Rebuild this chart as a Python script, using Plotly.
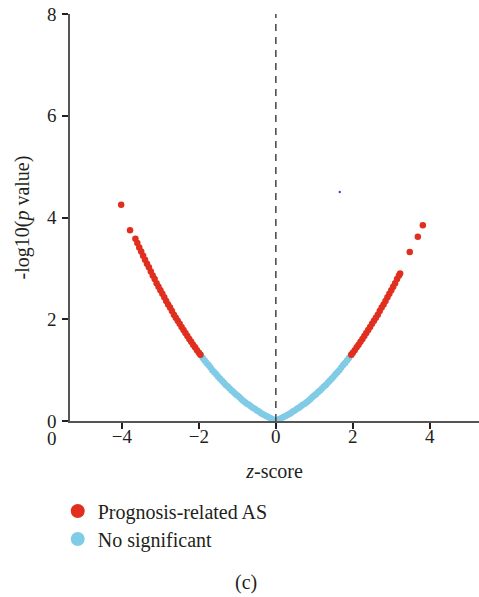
import plotly.graph_objects as go

# ---- data ----
# not significant (blue), z-score vs -log10(p)
ns_z = [-1.95, -1.90, -1.85, -1.80, -1.75, -1.70, -1.65, -1.60, -1.55, -1.50,
        -1.45, -1.40, -1.35, -1.30, -1.25, -1.20, -1.15, -1.10, -1.05, -1.00,
        -0.95, -0.90, -0.85, -0.80, -0.75, -0.70, -0.65, -0.60, -0.55, -0.50,
        -0.45, -0.40, -0.35, -0.30, -0.25, -0.20, -0.15, -0.10, -0.05, 0.00,
        0.05, 0.10, 0.15, 0.20, 0.25, 0.30, 0.35, 0.40, 0.45, 0.50,
        0.55, 0.60, 0.65, 0.70, 0.75, 0.80, 0.85, 0.90, 0.95, 1.00,
        1.05, 1.10, 1.15, 1.20, 1.25, 1.30, 1.35, 1.40, 1.45, 1.50,
        1.55, 1.60, 1.65, 1.70, 1.75, 1.80, 1.85, 1.90, 1.95]
ns_y = [1.29, 1.24, 1.19, 1.14, 1.10, 1.05, 1.00, 0.96, 0.92, 0.87,
        0.83, 0.79, 0.75, 0.71, 0.68, 0.64, 0.60, 0.57, 0.53, 0.50,
        0.47, 0.43, 0.40, 0.37, 0.34, 0.32, 0.29, 0.26, 0.24, 0.21,
        0.19, 0.16, 0.14, 0.12, 0.10, 0.08, 0.06, 0.04, 0.02, 0.00,
        0.02, 0.04, 0.06, 0.08, 0.10, 0.12, 0.14, 0.16, 0.19, 0.21,
        0.24, 0.26, 0.29, 0.32, 0.34, 0.37, 0.40, 0.43, 0.47, 0.50,
        0.53, 0.57, 0.60, 0.64, 0.68, 0.71, 0.75, 0.79, 0.83, 0.87,
        0.92, 0.96, 1.00, 1.05, 1.10, 1.14, 1.19, 1.24, 1.29]

# prognosis-related AS (red)
sig_z = [-4.02, -3.79,
         -3.65, -3.60, -3.55, -3.50, -3.45, -3.40, -3.35, -3.30, -3.25, -3.20,
         -3.15, -3.10, -3.05, -3.00, -2.95, -2.90, -2.85, -2.80, -2.75, -2.70,
         -2.65, -2.60, -2.55, -2.50, -2.45, -2.40, -2.35, -2.30, -2.25, -2.20,
         -2.15, -2.10, -2.05, -2.00, -1.96,
         1.96, 2.00, 2.05, 2.10, 2.15, 2.20, 2.25, 2.30, 2.35, 2.40,
         2.45, 2.50, 2.55, 2.60, 2.65, 2.70, 2.75, 2.80, 2.85, 2.90,
         2.95, 3.00, 3.05, 3.10, 3.15, 3.20, 3.23,
         3.48, 3.69, 3.82]
sig_y = [4.25, 3.75,
         3.58, 3.50, 3.41, 3.33, 3.25, 3.17, 3.09, 3.02, 2.94, 2.86,
         2.79, 2.71, 2.64, 2.57, 2.50, 2.43, 2.36, 2.29, 2.23, 2.16,
         2.09, 2.03, 1.97, 1.91, 1.85, 1.79, 1.73, 1.67, 1.61, 1.56,
         1.50, 1.45, 1.39, 1.34, 1.30,
         1.30, 1.34, 1.39, 1.45, 1.50, 1.56, 1.61, 1.67, 1.73, 1.79,
         1.85, 1.91, 1.97, 2.03, 2.09, 2.16, 2.23, 2.29, 2.36, 2.43,
         2.50, 2.57, 2.64, 2.71, 2.79, 2.86, 2.90,
         3.32, 3.62, 3.85]

# stray tiny point
odd_z = [1.66]
odd_y = [4.50]

x_ticks = [-4, -2, 0, 2, 4]
y_ticks = [0, 2, 4, 6, 8]

RED = "#E02F1F"
BLUE = "#80CBE6"
FONT = "Liberation Serif"
TXT = "#231F20"
FS = 20
TFS = 19

fig = go.Figure()
fig.add_trace(go.Scatter(x=ns_z, y=ns_y, mode="markers", showlegend=False,
                         marker=dict(color=BLUE, size=6.5, line=dict(width=0)),
                         hoverinfo="skip"))
fig.add_trace(go.Scatter(x=sig_z, y=sig_y, mode="markers", showlegend=False,
                         marker=dict(color=RED, size=6.5, line=dict(width=0)),
                         hoverinfo="skip"))
fig.add_trace(go.Scatter(x=odd_z, y=odd_y, mode="markers", showlegend=False,
                         marker=dict(color="#4A4ACF", size=2.5, line=dict(width=0)),
                         hoverinfo="skip"))
# legend entries
fig.add_trace(go.Scatter(x=[None], y=[None], mode="markers", name="Prognosis-related AS",
                         marker=dict(color=RED, size=14), legend="legend"))
fig.add_trace(go.Scatter(x=[None], y=[None], mode="markers", name="No significant",
                         marker=dict(color=BLUE, size=14), legend="legend2"))

fig.add_shape(type="line", x0=0, x1=0, y0=0, y1=8, xref="x", yref="y",
              line=dict(color="#444444", width=1.5, dash="7px,6px"))

leg_common = dict(xanchor="left", yanchor="middle",
                  font=dict(family=FONT, size=FS, color=TXT),
                  itemsizing="trace", bgcolor="rgba(0,0,0,0)")

fig.update_layout(
    width=479, height=597,
    margin=dict(l=70, r=0, t=14, b=176, autoexpand=False),
    paper_bgcolor="white", plot_bgcolor="white",
    font=dict(family=FONT, size=FS, color=TXT),
    showlegend=True,
    legend=dict(x=-0.03, y=-0.2212, **leg_common),
    legend2=dict(x=-0.03, y=-0.29, **leg_common),
    xaxis=dict(range=[-5.35, 5.28], tickvals=x_ticks, showgrid=False, zeroline=False,
               automargin=False,
               showline=True, linecolor="#555555", linewidth=1.5,
               ticks="outside", ticklen=6, tickwidth=1.5, tickcolor="#231F20",
               ticklabelstandoff=-9, ticklabeloverflow="allow",
               tickfont=dict(family=FONT, size=TFS, color=TXT),
               title=dict(text="<i>z</i>-score", font=dict(family=FONT, size=FS, color=TXT),
                          standoff=18)),
    yaxis=dict(range=[0, 8], tickvals=y_ticks, showgrid=False, zeroline=False,
               automargin=False,
               showline=True, linecolor="#555555", linewidth=1.5,
               ticks="outside", ticklen=6, tickwidth=1.5, tickcolor="#231F20",
               ticklabelstandoff=2, ticklabeloverflow="allow",
               tickfont=dict(family=FONT, size=TFS, color=TXT),
               title=dict(text="-log10(<i>p</i> value)",
                          font=dict(family=FONT, size=FS, color=TXT), standoff=12)),
)

fig.add_annotation(text="0", xref="paper", yref="paper", x=-0.044, y=-0.043,
                   showarrow=False, xanchor="center", yanchor="middle",
                   font=dict(family=FONT, size=TFS, color=TXT))
fig.add_annotation(text="(c)", xref="paper", yref="paper", x=0.43, y=-0.398,
                   showarrow=False, xanchor="center", yanchor="middle",
                   font=dict(family=FONT, size=FS, color=TXT))

fig.write_html("out.html", config={"displayModeBar": False},
               post_script="document.body.style.margin='0';")
